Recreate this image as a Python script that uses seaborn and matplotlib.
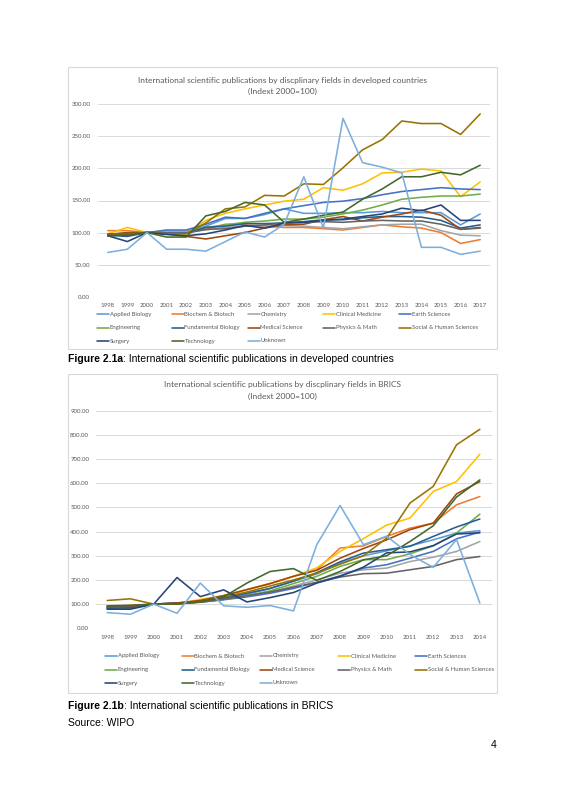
import pandas as pd
import numpy as np
import matplotlib
matplotlib.use('Agg')
import matplotlib.pyplot as plt
from matplotlib.patches import Rectangle
from matplotlib.lines import Line2D
import seaborn as sns

# series names and Excel default colours
fields = ['Applied Biology', 'Biochem & Biotech', 'Chemistry', 'Clinical Medicine',
          'Earth Sciences', 'Engineering', 'Fundamental Biology', 'Medical Science',
          'Physics & Math', 'Social & Human Sciences', 'Surgery', 'Technology', 'Unknown']
colors = ['#5B9BD5', '#ED7D31', '#A5A5A5', '#FFC000', '#4472C4', '#70AD47', '#255E91',
          '#9E480E', '#636363', '#997300', '#264478', '#43682B', '#7CAFDD']

""" Developed countries, 1998-2017 """
years_dev = list(range(1998, 2018))
dev_applied = [95, 97, 100, 102, 102, 110, 122, 122, 128, 137, 130, 130, 131, 131, 133, 131, 131, 131, 112, 129]
dev_biochem = [103, 103, 100, 100, 100, 105, 113, 112, 110, 108, 108, 106, 104, 108, 112, 109, 107, 100, 83, 89]
dev_chemistry = [98, 99, 100, 101, 101, 104, 108, 110, 110, 111, 110, 108, 106, 109, 112, 113, 113, 103, 96, 95]
dev_clinical = [98, 108, 100, 98, 98, 119, 130, 137, 143, 149, 152, 170, 166, 176, 193, 194, 199, 196, 156, 179]
dev_earth = [96, 98, 100, 104, 104, 113, 124, 122, 130, 137, 142, 147, 149, 153, 159, 164, 167, 170, 168, 167]
dev_engineering = [97, 98, 100, 99, 99, 108, 112, 116, 118, 121, 121, 124, 129, 135, 143, 152, 155, 157, 157, 160]
dev_fundamental = [96, 94, 100, 99, 99, 108, 110, 114, 114, 115, 117, 120, 120, 123, 125, 125, 124, 119, 107, 112]
dev_medical = [97, 100, 100, 98, 94, 90, 95, 100, 107, 112, 113, 120, 125, 118, 124, 129, 135, 127, 105, 107]
dev_physics = [98, 98, 100, 99, 99, 105, 106, 110, 112, 115, 116, 117, 116, 118, 119, 118, 118, 113, 105, 108]
dev_social = [95, 97, 100, 98, 98, 115, 137, 140, 158, 157, 176, 175, 201, 229, 245, 274, 270, 270, 253, 285]
dev_surgery = [95, 86, 100, 97, 95, 98, 104, 111, 107, 115, 116, 119, 121, 125, 129, 138, 134, 143, 119, 119]
dev_technology = [95, 96, 100, 93, 93, 126, 133, 147, 143, 116, 121, 127, 132, 152, 168, 187, 187, 194, 190, 205]
dev_unknown = [69, 74, 100, 74, 74, 71, 86, 101, 93, 113, 187, 107, 278, 209, 202, 193, 77, 77, 66, 71]

""" BRICS, 1998-2014 """
years_brics = list(range(1998, 2015))
br_applied = [82, 85, 100, 105, 112, 125, 140, 165, 195, 225, 270, 300, 320, 341, 366, 394, 404]
br_biochem = [90, 95, 100, 100, 115, 135, 160, 185, 215, 242, 332, 341, 380, 414, 435, 511, 545]
br_chemistry = [90, 90, 100, 102, 110, 120, 135, 150, 175, 200, 228, 242, 249, 276, 294, 318, 359]
br_clinical = [85, 90, 100, 100, 120, 135, 160, 185, 215, 250, 318, 371, 427, 456, 566, 607, 720]
br_earth = [86, 87, 100, 105, 108, 118, 130, 145, 165, 190, 217, 249, 263, 290, 318, 370, 398]
br_engineering = [85, 85, 100, 102, 108, 120, 135, 155, 185, 215, 256, 284, 284, 308, 341, 394, 472]
br_fundamental = [83, 85, 100, 103, 110, 125, 145, 165, 195, 230, 275, 311, 325, 339, 380, 419, 452]
br_medical = [88, 90, 100, 105, 115, 135, 160, 185, 215, 240, 290, 330, 366, 408, 435, 556, 607]
br_physics = [92, 92, 100, 102, 108, 120, 135, 150, 170, 190, 212, 226, 228, 242, 256, 284, 297]
br_social = [115, 122, 100, 100, 110, 130, 150, 175, 200, 228, 265, 300, 373, 518, 587, 759, 823]
br_surgery = [79, 79, 100, 210, 131, 159, 109, 127, 148, 187, 215, 253, 312, 316, 342, 390, 395]
br_technology = [93, 95, 100, 100, 110, 130, 187, 235, 247, 198, 235, 283, 300, 359, 424, 543, 614]
br_unknown = [65, 58, 100, 62, 187, 93, 87, 94, 72, 346, 508, 346, 381, 305, 252, 367, 104]

dev_series = [dev_applied, dev_biochem, dev_chemistry, dev_clinical, dev_earth, dev_engineering,
              dev_fundamental, dev_medical, dev_physics, dev_social, dev_surgery, dev_technology, dev_unknown]
br_series = [br_applied, br_biochem, br_chemistry, br_clinical, br_earth, br_engineering,
             br_fundamental, br_medical, br_physics, br_social, br_surgery, br_technology, br_unknown]


def long_frame(years, series):
    rows = []
    for name, vals in zip(fields, series):
        for y, v in zip(years, vals):
            rows.append((y, v, name))
    return pd.DataFrame(rows, columns=['year', 'value', 'field'])


df_dev = long_frame(years_dev, dev_series)
df_br = long_frame(years_brics, br_series)
palette = dict(zip(fields, colors))

sns.set_theme(style='white')
plt.rcParams['font.family'] = ['Lato', 'DejaVu Sans']

W, H = 565, 800
fig = plt.figure(figsize=(W / 100, H / 100), dpi=100)
fig.patch.set_facecolor('white')


def fx(px):
    return px / W


def fy(py):
    return 1 - py / H


GRAY = '#595959'
GRID = '#D9D9D9'


def draw_chart(df, years, ymax, ystep, box, plot, title, legend_cols, legend_rows, ypad):
    # chart border
    x0, y0, x1, y1 = box
    fig.patches.append(Rectangle((fx(x0), fy(y1)), fx(x1 - x0), (y1 - y0) / H,
                                 transform=fig.transFigure, fill=False,
                                 edgecolor=GRID, lw=0.8))
    l, t, r, b = plot
    ax = fig.add_axes([fx(l), fy(b), fx(r - l), (b - t) / H])
    sns.lineplot(data=df, x='year', y='value', hue='field', hue_order=fields,
                 palette=palette, estimator=None, lw=1.15, legend=False, ax=ax)
    ax.set_xlim(years[0] - 0.5, years[-1] + 0.5)
    ax.set_ylim(0, ymax)
    ax.set_xticks(years)
    ax.set_xticklabels([str(y) for y in years])
    yt = np.arange(0, ymax + 1, ystep)
    ax.set_yticks(yt)
    ax.set_yticklabels(['%.2f' % v for v in yt])
    ax.tick_params(axis='both', length=0, labelsize=4.4, colors=GRAY)
    ax.tick_params(axis='y', pad=ypad)
    ax.tick_params(axis='x', pad=4.5)
    ax.yaxis.grid(True, color=GRID, lw=0.7)
    ax.set_axisbelow(True)
    for s in ax.spines.values():
        s.set_visible(False)
    ax.set_xlabel('')
    ax.set_ylabel('')
    ax.patch.set_alpha(0)
    # two-line title
    cx = (x0 + x1) / 2
    fig.text(fx(cx), fy(title[2]), title[0], ha='center', va='center', fontsize=6.0, color=GRAY)
    fig.text(fx(cx), fy(title[3]), title[1], ha='center', va='center', fontsize=6.0, color=GRAY)
    # Excel-style legend, 5 equal columns
    for i, (name, c) in enumerate(zip(fields, colors)):
        col, row = i % 5, i // 5
        lx = legend_cols[col]
        ly = fy(legend_rows[row])
        fig.lines.append(Line2D([fx(lx), fx(lx + 12)], [ly, ly], color=c, lw=1.15,
                                transform=fig.transFigure))
        fig.text(fx(lx + 12.5), ly, name, ha='left', va='center', fontsize=4.3, color=GRAY)
    return ax


draw_chart(df_dev, years_dev, 300, 50,
           box=(68, 67, 497, 349), plot=(98, 104.3, 490, 296.7),
           title=('International scientific publications by discplinary fields in developed countries',
                  '(Indext 2000=100)', 80, 91),
           legend_cols=[97, 172, 248, 323, 399], legend_rows=[314, 327.5, 341], ypad=5.5)

draw_chart(df_br, years_brics, 900, 100,
           box=(68, 374, 497, 693), plot=(95.5, 410.7, 491.5, 628.3),
           title=('International scientific publications by discplinary fields in BRICS',
                  '(Indext 2000=100)', 384, 396),
           legend_cols=[105, 182, 260, 338, 415], legend_rows=[656, 669.5, 683], ypad=4.5)

# captions
renderer = fig.canvas.get_renderer()


def caption(py, bold, rest):
    t = fig.text(fx(68), fy(py), bold, ha='left', va='center', fontsize=7.5,
                 fontweight='bold', family='Liberation Sans', color='black')
    bb = t.get_window_extent(renderer=renderer)
    fig.text(bb.x1 / fig.bbox.width, fy(py), rest, ha='left', va='center', fontsize=7.5,
             family='Liberation Sans', color='black')


caption(359, 'Figure 2.1a', ': International scientific publications in developed countries')
caption(706, 'Figure 2.1b', ': International scientific publications in BRICS')
fig.text(fx(68), fy(723.5), 'Source: WIPO', ha='left', va='center', fontsize=7.5,
         family='Liberation Sans', color='black')
fig.text(fx(497), fy(745), '4', ha='right', va='center', fontsize=7.5,
         family='Liberation Sans', color='black')

fig.savefig('out.png', dpi=100, facecolor='white')
